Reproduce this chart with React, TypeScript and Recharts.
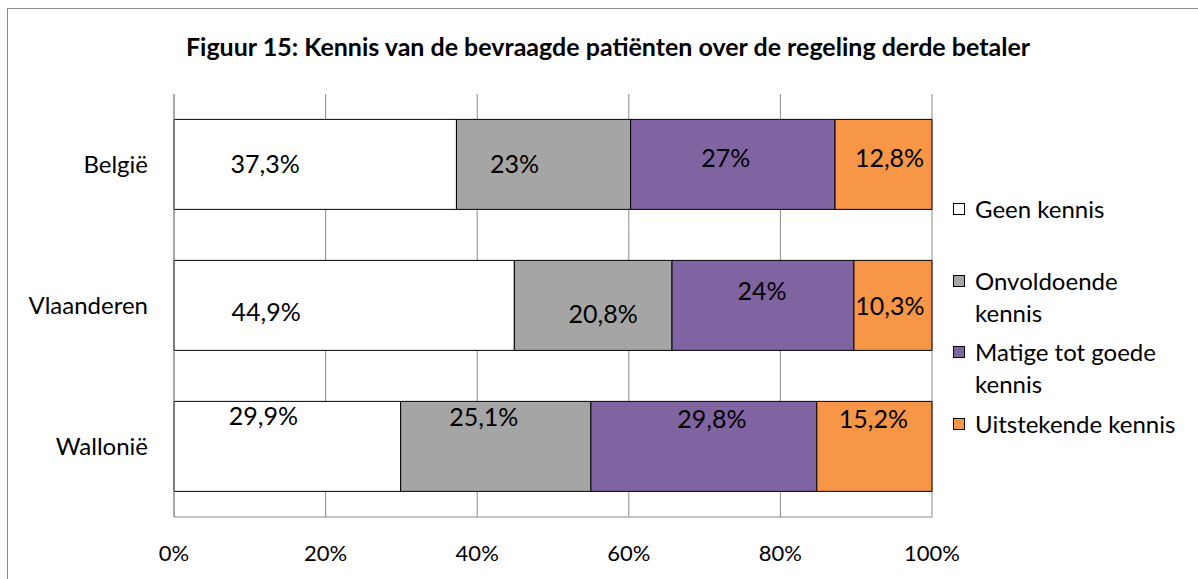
import { BarChart, Bar, XAxis, YAxis, CartesianGrid, Legend, LabelList } from 'recharts';

const REGIONS = ['België', 'Vlaanderen', 'Wallonië'];
const SERIES_NAMES = ['Geen kennis', 'Onvoldoende kennis', 'Matige tot goede kennis', 'Uitstekende kennis'];
const GEEN = [37.3, 44.9, 29.9];
const ONVOLDOENDE = [23, 20.8, 25.1];
const MATIGE = [27, 24, 29.8];
const UITSTEKEND = [12.8, 10.3, 15.2];
const X_TICKS = [0, 0.2, 0.4, 0.6, 0.8, 1];

const VALUES = [GEEN, ONVOLDOENDE, MATIGE, UITSTEKEND];
const KEYS = ['geen', 'onvoldoende', 'matige', 'uitstekend'];
const FILLS = ['#FFFFFF', '#A5A5A5', '#8064A2', '#F79646'];

// hand-placed data labels in the original, [dx, dy] from segment centre
const NUDGE = [
  [[-50, -1], [-78, 6], [-24, -31]],
  [[-29, -1], [10, 8], [-12, -30]],
  [[-7, -7], [-1, -15], [8, -28]],
  [[6, -7], [-3, 0], [-1, -28]],
];

const FONT = 'Lato, "Open Sans", sans-serif';
const GRID = '#8a8a8a';

const data = REGIONS.map((name, i) => {
  const row: Record<string, string | number> = { name };
  KEYS.forEach((k, s) => { row[k] = VALUES[s][i]; });
  return row;
});

const fmt = (v: number) => `${String(v).replace('.', ',')}%`;

const makeLabel = (s: number) => (props: any) => {
  const { x, y, width, height, index } = props;
  const [dx, dy] = NUDGE[s][index];
  return (
    <text
      x={x + width / 2 + dx}
      y={y + height / 2 + dy}
      textAnchor="middle"
      dominantBaseline="central"
      fontFamily={FONT}
      fontSize={25}
      fill="#000"
    >
      {fmt(VALUES[s][index])}
    </text>
  );
};

function LegendBox() {
  return (
    <div style={{ fontFamily: FONT, fontSize: 24, color: '#000', width: 240 }}>
      {SERIES_NAMES.map((n, i) => (
        <div key={n} style={{ display: 'flex', alignItems: 'flex-start', height: 71.7 }}>
          <span
            style={{
              display: 'inline-block',
              width: 10,
              height: 10,
              marginTop: 10,
              marginRight: 10,
              background: FILLS[i],
              border: '1px solid #000',
              flex: 'none',
            }}
          />
          <span style={{ lineHeight: '32px', maxWidth: 208 }}>{n}</span>
        </div>
      ))}
    </div>
  );
}

export default function App() {
  return (
    <div style={{ position: 'relative', width: 1198, height: 579, overflow: 'hidden', background: '#fff' }}>
      <style>{'body{margin:0}'}</style>
      <div
        style={{
          position: 'absolute',
          left: 7,
          top: 8,
          width: 1260,
          height: 640,
          border: '1px solid #8a8a8a',
          boxSizing: 'border-box',
        }}
      />
      <div
        style={{
          position: 'absolute',
          left: 0,
          width: 1216,
          top: 29,
          textAlign: 'center',
          fontFamily: FONT,
          fontWeight: 700,
          fontSize: 25,
          lineHeight: '34px',
        }}
      >
        Figuur 15: Kennis van de bevraagde patiënten over de regeling derde betaler
      </div>
      <div style={{ position: 'absolute', left: 0, top: 0 }}>
        <BarChart
          width={1198}
          height={579}
          data={data}
          layout="vertical"
          stackOffset="expand"
          barCategoryGap="18%"
          margin={{ top: 94, right: 266, bottom: 22, left: 14 }}
        >
          <CartesianGrid horizontal={false} vertical stroke={GRID} />
          <XAxis
            type="number"
            domain={[0, 1]}
            ticks={X_TICKS}
            tickFormatter={(v: number) => `${Math.round(v * 100)}%`}
            axisLine={{ stroke: GRID }}
            tickLine={false}
            tickMargin={22}
            height={40}
            tick={{ fill: '#000', fontFamily: FONT, fontSize: 22 }}
          />
          <YAxis
            type="category"
            dataKey="name"
            width={160}
            axisLine={{ stroke: GRID }}
            tickLine={false}
            tickMargin={20}
            tick={{ fill: '#000', fontFamily: FONT, fontSize: 24 }}
          />
          <Legend
            layout="horizontal"
            align="center"
            verticalAlign="middle"
            wrapperStyle={{ left: 953, top: 193, width: 240, height: 300 }}
            content={() => <LegendBox />}
          />
          {KEYS.map((k, s) => (
            <Bar
              key={k}
              dataKey={k}
              name={SERIES_NAMES[s]}
              stackId="a"
              fill={FILLS[s]}
              stroke="#000"
              strokeWidth={1}
              isAnimationActive={false}
            >
              <LabelList dataKey={k} content={makeLabel(s)} />
            </Bar>
          ))}
        </BarChart>
      </div>
    </div>
  );
}
